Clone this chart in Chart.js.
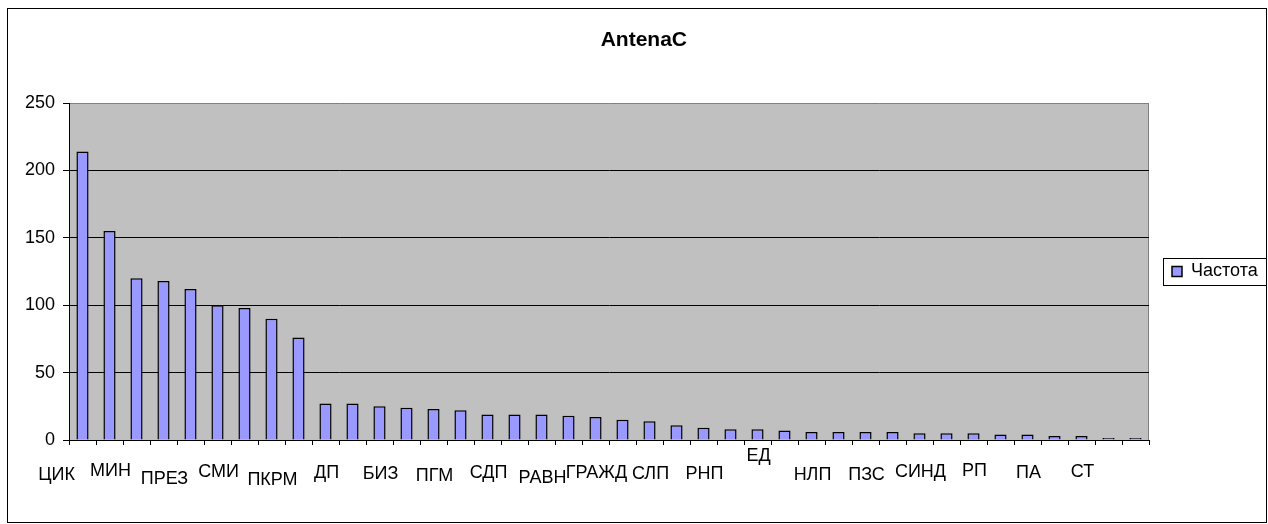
<!DOCTYPE html>
<html>
<head>
<meta charset="utf-8">
<title>AntenaC</title>
<script src="https://cdn.jsdelivr.net/npm/chart.js@4.4.1/dist/chart.umd.min.js"></script>
<style>
  html, body { margin: 0; padding: 0; background: #fff; }
  canvas { display: block; }
</style>
</head>
<body>
<canvas id="antenaChart" width="1268" height="524"></canvas>
<script>
// -----------------------
// Data
// -----------------------
// only every other category carries a visible label in the original
const categories = [
  'ЦИК', '', 'МИН', '', 'ПРЕЗ', '', 'СМИ', '', 'ПКРМ', '',
  'ДП', '', 'БИЗ', '', 'ПГМ', '', 'СДП', '', 'РАВН', '',
  'ГРАЖД', '', 'СЛП', '', 'РНП', '', 'ЕД', '', 'НЛП', '',
  'ПЗС', '', 'СИНД', '', 'РП', '', 'ПА', '', 'СТ', ''
];
const frequency = [
  214, 155, 120, 118, 112, 100, 98, 90, 76, 27,
  27, 25, 24, 23, 22, 19, 19, 19, 18, 17,
  15, 14, 11, 9, 8, 8, 7, 6, 6, 6,
  6, 5, 5, 5, 4, 4, 3, 3, 1, 1
];
const yTicks = [0, 50, 100, 150, 200, 250];
const seriesName = 'Частота';
const chartTitle = 'AntenaC';

// -----------------------
// Layout helpers
// -----------------------
// Excel staggered the category labels; px drop of each visible label
const labelDrop = [27, 23, 31, 24, 32, 25, 26, 28, 25, 30, 25, 26, 26, 8, 27, 27, 24, 23, 25, 24];

const FONT = "'Liberation Sans', Arial, sans-serif";
const LABEL_SIZE = 18;
Chart.defaults.font.family = FONT;
Chart.defaults.color = '#000';

// legend sits right of the plot; size the right padding from the text width
const measure = document.createElement('canvas').getContext('2d');
measure.font = LABEL_SIZE + 'px ' + FONT;
const legendTextW = measure.measureText(seriesName).width;
const legendPad = 23;
const rightPad = 1268 - 1149 - (legendPad + 10 + LABEL_SIZE / 2 + legendTextW + 10);

const excelLook = {
  id: 'excelLook',
  beforeDraw(chart) {
    const { ctx, chartArea: a } = chart;
    ctx.save();
    ctx.fillStyle = '#fff';
    ctx.fillRect(0, 0, chart.width, chart.height);
    ctx.fillStyle = '#C0C0C0';
    ctx.fillRect(a.left, a.top, a.right - a.left, a.bottom - a.top);
    ctx.strokeStyle = '#808080';
    ctx.lineWidth = 1;
    ctx.beginPath();
    ctx.moveTo(Math.round(a.right) - 0.5, a.top);
    ctx.lineTo(Math.round(a.right) - 0.5, a.bottom);
    ctx.stroke();
    ctx.restore();
  },
  afterDraw(chart) {
    const { ctx } = chart;
    ctx.save();
    ctx.strokeStyle = '#000';
    ctx.lineWidth = 1;
    // outer chart frame
    ctx.strokeRect(7.5, 8.5, 1259, 514);
    // legend frame
    const hit = chart.legend.legendHitBoxes[0];
    if (hit) {
      const cy = Math.round(hit.top + hit.height / 2);
      const left = Math.round(hit.left) - 9;
      ctx.strokeRect(left + 0.5, cy - 13.5, 1266 - left, 27);
    }
    ctx.restore();
  }
};

// -----------------------
// Chart
// -----------------------
const ctx = document.getElementById('antenaChart').getContext('2d');
new Chart(ctx, {
  type: 'bar',
  data: {
    labels: categories,
    datasets: [{
      label: seriesName,
      data: frequency,
      backgroundColor: '#9999FF',
      borderColor: '#000',
      borderWidth: 1.5,
      minBarLength: 2,
      barPercentage: 0.45,
      categoryPercentage: 1
    }]
  },
  options: {
    responsive: false,
    animation: false,
    devicePixelRatio: 1,
    events: [],
    layout: { padding: { top: 10, left: 20, right: rightPad, bottom: 0 } },
    plugins: {
      title: {
        display: true,
        text: chartTitle,
        color: '#000',
        font: { size: 21, weight: 'bold' },
        padding: { top: 18, bottom: 49.8 }
      },
      legend: {
        position: 'right',
        fullSize: false,
        labels: {
          boxWidth: 10,
          boxHeight: 10,
          padding: legendPad,
          color: '#000',
          font: { size: LABEL_SIZE }
        }
      },
      tooltip: { enabled: false }
    },
    scales: {
      x: {
        offset: true,
        grid: {
          offset: true,
          drawOnChartArea: false,
          tickLength: 5,
          color: '#000'
        },
        border: { color: '#000', width: 1 },
        ticks: {
          autoSkip: false,
          maxRotation: 0,
          minRotation: 0,
          padding: 3,
          labelOffset: -26,
          font: { size: LABEL_SIZE, lineHeight: '1px' },
          callback: (val, i) => {
            const name = categories[i];
            if (!name) return '';
            return Array(labelDrop[i / 2]).fill('').concat(name);
          }
        },
        afterFit: scale => { scale.height = 84; }
      },
      y: {
        min: yTicks[0],
        max: yTicks[yTicks.length - 1],
        grid: {
          color: c => (c.tick && c.tick.value === yTicks[yTicks.length - 1]) ? '#808080' : '#000',
          tickColor: '#000',
          tickLength: 6
        },
        border: { color: '#000', width: 1 },
        ticks: {
          stepSize: yTicks[1] - yTicks[0],
          padding: 8,
          font: { size: LABEL_SIZE }
        },
        afterFit: scale => { scale.width = 49; }
      }
    }
  },
  plugins: [excelLook]
});
</script>
</body>
</html>
